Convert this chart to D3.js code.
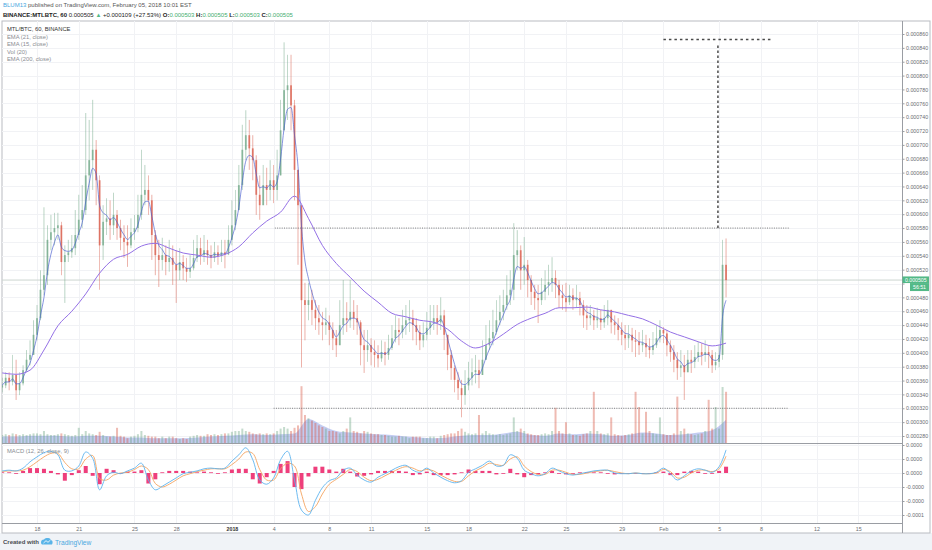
<!DOCTYPE html>
<html>
<head>
<meta charset="utf-8">
<script src="https://cdn.jsdelivr.net/npm/d3@7"></script>
<style>
html,body{margin:0;padding:0;background:#fff;}
svg{display:block;font-family:"Liberation Sans",Arial,sans-serif;}
</style>
</head>
<body>
<svg id="chart" width="932" height="550"></svg>
<script>
// MTL/BTC 60 min, Binance. prices in 1e-6 BTC, one candle = 6h starting 15 Dec 12:00 UTC
var close=[353,364,358,368,346,356,375,390,397,426,
450,491,512,563,574,580,584,531,541,545,
551,570,592,606,656,678,693,649,555,589,
594,584,599,580,566,560,555,574,580,599,
628,635,620,570,541,534,541,531,537,527,
519,531,522,517,522,537,551,541,548,541,
537,545,540,545,542,563,584,606,642,693,
714,695,678,628,613,642,635,649,635,656,
721,779,786,757,664,613,476,469,476,462,
450,444,440,444,433,421,411,440,450,447,
459,450,444,411,404,411,401,397,392,401,
397,407,421,433,430,440,447,450,440,430,
418,426,436,444,450,444,454,426,397,378,
361,349,339,353,364,372,375,368,390,411,
421,430,447,459,469,483,491,541,548,519,
527,505,488,479,476,488,498,502,508,498,
483,479,473,483,476,479,469,454,450,454,
447,450,444,450,462,444,440,433,426,421,
426,418,416,411,414,408,404,411,421,433,
428,411,401,390,378,382,372,390,387,394,
401,397,401,397,382,387,397,527,505];
var high=[364,372,372,397,390,372,382,404,418,447,
469,519,610,584,599,602,602,589,555,563,
570,606,628,642,746,736,765,707,656,613,
623,620,631,606,592,584,584,594,599,628,
693,671,656,628,577,563,566,555,563,555,
548,551,541,537,541,563,570,566,570,563,
555,560,555,563,563,584,620,635,671,729,
750,736,714,685,656,671,667,678,671,693,
765,848,830,830,765,664,613,501,501,491,
476,469,459,465,454,444,433,476,505,473,
505,476,469,447,433,433,421,418,411,418,
416,426,440,454,450,462,469,476,462,450,
440,444,459,469,469,469,480,462,426,404,
382,372,361,375,387,392,397,390,418,440,
447,462,476,483,491,512,519,587,577,555,
567,534,512,498,498,508,519,527,538,519,
505,498,501,498,493,498,488,476,469,469,
462,465,462,469,476,462,454,450,444,440,
440,436,433,430,433,426,421,430,440,447,
437,433,418,411,401,404,397,404,404,411,
416,414,418,411,404,401,411,563,565];
var low=[343,349,346,353,332,339,353,372,382,404,
418,447,483,498,548,555,563,512,472,531,
537,541,563,580,599,620,635,613,491,534,
570,563,570,563,548,537,524,551,563,574,
592,613,599,534,512,495,519,512,517,498,
472,505,505,502,508,519,531,527,531,527,
522,531,527,531,522,541,555,577,606,635,
678,664,649,599,592,613,613,620,616,620,
671,729,736,721,620,527,379,418,447,440,
433,426,418,426,411,404,394,418,426,430,
436,433,426,382,371,387,382,379,379,387,
382,390,404,415,411,421,426,430,418,411,
404,408,418,426,433,426,433,404,375,361,
343,332,307,325,346,353,356,349,368,390,
404,411,426,440,447,462,469,476,519,491,
498,480,469,462,443,469,476,483,488,479,
465,462,459,469,462,465,454,436,433,440,
433,436,433,436,440,428,426,418,411,404,
407,401,394,397,401,394,392,397,407,415,
414,395,387,372,361,365,332,372,371,378,
387,382,387,378,371,375,379,390,480];
var firstOpen=350;
var volume=[10,11,10,12,11,10,11,10,11,12,
12,11,15,11,10,10,11,12,11,10,
9,10,19,11,15,12,11,10,14,10,
8,8,9,19,9,8,6,8,9,11,
15,10,9,8,8,6,8,6,8,8,
6,5,6,5,8,9,10,9,9,11,
10,11,10,11,12,12,14,15,15,18,
15,14,12,11,12,11,12,11,12,15,
18,20,18,15,19,22,71,35,31,28,
25,22,20,18,15,15,14,12,15,18,
32,15,14,12,15,14,12,11,11,10,
10,9,8,8,9,8,8,6,8,8,
8,6,6,8,8,6,9,10,11,12,
12,15,18,14,12,11,12,35,12,15,
12,11,10,11,10,11,12,32,15,18,
15,12,11,10,10,11,12,11,15,44,
15,12,26,12,10,10,9,11,12,15,
64,15,12,11,12,32,11,10,9,10,
11,12,64,45,12,39,15,12,11,32,
11,10,10,12,58,15,18,12,11,10,
11,12,15,54,18,45,18,70,64];
// one value per day (every 4th candle)
var volMA=[8,8,9,9,9,8,9,9,8,7,7,6,6,6,7,8,9,10,11,10,11,12,30,22,15,13,12,11,10,8,
7,6,7,9,10,10,12,14,10,9,12,11,12,11,9,10,13,12,10,11,13,16,29];
var ema200=[371,369,375,404,439,460,485,515,535,542,554,558,551,544,541,538,542,553,573,590,
603,626,594,555,529,509,489,473,457,452,447,444,434,417,407,414,427,441,450,457,
465,465,466,462,459,454,449,440,430,423,416,410,414];
// MACD (12,26,9), 1e-6, one value per 12h
var macd=[3,4,3,7,16,23,29,31,26,4,
3,10,30,21,-24,-4,1,-1,3,7,
14,-10,-24,-19,-13,-7,-1,1,3,6,
7,6,7,17,26,36,19,-10,-16,-7,
19,31,-10,-53,-60,-39,-21,-11,-7,4,
7,-3,-10,-13,-6,-1,4,9,11,4,
1,7,0,-6,-11,-14,-11,1,6,11,
17,10,11,26,21,4,-1,-4,-1,7,
3,-1,-3,-1,1,3,4,4,0,-1,
-1,0,-1,-1,1,7,-1,-10,-4,3,
6,4,1,9,33];
var signal=[2,3,3,4,9,16,23,28,28,15,
6,6,20,25,-8,-10,-3,0,1,5,
10,5,-15,-20,-16,-10,-4,-1,2,4,
6,6,6,12,20,30,28,5,-10,-10,
6,14,10,-30,-55,-48,-30,-16,-9,-2,
5,2,-6,-11,-9,-4,1,6,9,7,
3,5,3,-3,-8,-12,-12,-4,3,8,
14,12,11,20,23,10,2,-2,-2,4,
4,1,-2,-2,0,2,3,4,2,0,
-1,0,-1,-1,0,5,2,-7,-6,0,
4,4,2,6,24];

var priceTicks=[280,300,320,340,360,380,400,420,440,460,480,500,520,540,560,580,600,620,640,660,680,700,720,740,760,780,800,820,840,860];
var macdTicks=[40,20,0,-20,-40,-60];
var tickDates=["2017-12-18","2017-12-21","2017-12-25","2017-12-28","2018-01-01","2018-01-04","2018-01-08","2018-01-11","2018-01-15","2018-01-18","2018-01-22","2018-01-25","2018-01-29","2018-02-01","2018-02-05","2018-02-08","2018-02-12","2018-02-15"];
var tickLabels=["18","21","25","28","2018","4","8","11","15","18","22","25","29","Feb","5","8","12","15"];
var lastPrice=505;
// drawings on the chart
var levelLines=[{p:580,from:"2018-01-04T02:00Z",to:"2018-02-10T00:00Z"},{p:320,from:"2018-01-04T00:00Z",to:"2018-02-10T00:00Z"}];
var targetLine={p0:580,p1:846,at:"2018-02-04T22:00Z",from:"2018-02-01T00:00Z",to:"2018-02-08T20:00Z",top:852};

var t0=Date.UTC(2017,11,15,12);
var HOUR=3600*1000;
function candleTime(i){ return new Date(t0+i*6*HOUR); }
function halfDayTime(i){ return new Date(t0+i*12*HOUR); }
function dayTime(i){ return new Date(t0+i*24*HOUR); }

var svg=d3.select("#chart");
var plotL=2,plotR=902,mainTop=21,mainBot=443,macdBot=523,axisBot=533;
var upC="#6ba583",downC="#d75442";

var x=d3.scaleTime().domain([new Date(Date.UTC(2017,11,18)),new Date(Date.UTC(2018,1,15))]).range([37,858.3]);
var y=d3.scaleLinear().domain([280,860]).range([436,34]);
var yVol=d3.scaleLinear().domain([0,100]).range([mainBot,mainBot-80]);
var yM=d3.scaleLinear().domain([-60,40]).range([515,445]);

// bottom band
svg.append("rect").attr("x",0).attr("y",axisBot).attr("width",932).attr("height",550-axisBot).attr("fill","#f0f3f7");
svg.append("rect").attr("x",plotL).attr("y",mainTop).attr("width",928).attr("height",axisBot-mainTop).attr("fill","#fff").attr("stroke","#b9bcc2");

var defs=svg.append("defs");
defs.append("clipPath").attr("id","mainClip").append("rect").attr("x",plotL).attr("y",mainTop).attr("width",plotR-plotL).attr("height",mainBot-mainTop);
defs.append("clipPath").attr("id","macdClip").append("rect").attr("x",plotL).attr("y",mainBot).attr("width",plotR-plotL).attr("height",macdBot-mainBot);

// grid
var grid=svg.append("g").attr("class","grid").attr("stroke","#f1f2f5").attr("stroke-width",1);
tickDates.forEach(function(d){
    var xx=Math.round(x(new Date(d+"T00:00Z")))+0.5;
    grid.append("line").attr("x1",xx).attr("x2",xx).attr("y1",mainTop).attr("y2",macdBot);
});
priceTicks.forEach(function(p){
    var yy=Math.round(y(p))+0.5;
    grid.append("line").attr("x1",plotL).attr("x2",plotR).attr("y1",yy).attr("y2",yy);
});
macdTicks.forEach(function(p){
    var yy=Math.round(yM(p))+0.5;
    grid.append("line").attr("x1",plotL).attr("x2",plotR).attr("y1",yy).attr("y2",yy);
});

var main=svg.append("g").attr("clip-path","url(#mainClip)");
// last price line
main.append("line").attr("x1",plotL).attr("x2",plotR).attr("y1",y(lastPrice)).attr("y2",y(lastPrice)).attr("stroke","#cdd5d0").attr("stroke-width",1);

//volume
var candles=close.map(function(c,i){
    var o=i?close[i-1]:firstOpen;
    return {t:candleTime(i),o:o,c:c,h:Math.max(high[i],o,c),l:Math.min(low[i],o,c),v:volume[i]};
});
main.append("path").datum(volMA)
    .attr("d",d3.area().x(function(d,i){ return x(dayTime(i)); }).y0(mainBot).y1(function(d){ return yVol(d); }).curve(d3.curveMonotoneX))
    .attr("fill","rgba(98,122,222,0.38)");
main.append("g").selectAll("rect").data(candles).enter().append("rect")
    .attr("x",function(d){ return x(d.t)-1; }).attr("width",2)
    .attr("y",function(d){ return yVol(d.v); })
    .attr("height",function(d){ return mainBot-yVol(d.v); })
    .attr("fill",function(d){ return d.c>=d.o?upC:downC; }).attr("opacity",0.4);

// candles
var gC=main.append("g");
gC.selectAll("line").data(candles).enter().append("line")
    .attr("x1",function(d){ return x(d.t); }).attr("x2",function(d){ return x(d.t); })
    .attr("y1",function(d){ return y(d.h); }).attr("y2",function(d){ return y(d.l); })
    .attr("stroke",function(d){ return d.c>=d.o?upC:downC; }).attr("stroke-width",0.7).attr("opacity",0.65);
gC.selectAll("rect").data(candles).enter().append("rect")
    .attr("x",function(d){ return x(d.t)-0.9; }).attr("width",1.8)
    .attr("y",function(d){ return y(Math.max(d.o,d.c)); })
    .attr("height",function(d){ return Math.max(0.8,Math.abs(y(d.o)-y(d.c))); })
    .attr("fill",function(d){ return d.c>=d.o?upC:downC; }).attr("opacity",0.7);

// EMA 21 from the closes (21h = 3.5 candles of 6h)
var k=2/(21/6+1),e=close[0],ema21=[];
close.forEach(function(c){ e=e+k*(c-e); ema21.push(e); });
main.append("path").datum(ema21)
    .attr("d",d3.line().x(function(d,i){ return x(candleTime(i)); }).y(function(d){ return y(d); }).curve(d3.curveMonotoneX))
    .attr("fill","none").attr("stroke","#4a5fcf").attr("stroke-width",0.8).attr("opacity",0.85);
main.append("path").datum(ema200)
    .attr("d",d3.line().x(function(d,i){ return x(dayTime(i)); }).y(function(d){ return y(d); }).curve(d3.curveMonotoneX))
    .attr("fill","none").attr("stroke","#9470e6").attr("stroke-width",1);

// drawings
levelLines.forEach(function(l){
    main.append("line").attr("x1",x(new Date(l.from))).attr("x2",x(new Date(l.to)))
        .attr("y1",y(l.p)).attr("y2",y(l.p))
        .attr("stroke","#6d6d6d").attr("stroke-width",0.9).attr("stroke-dasharray","1,1.3");
});
var tx=x(new Date(targetLine.at));
main.append("line").attr("x1",tx).attr("x2",tx).attr("y1",y(targetLine.p0)).attr("y2",y(targetLine.p1))
    .attr("stroke","#4a4a4a").attr("stroke-width",1.5).attr("stroke-dasharray","2.5,2.5");
main.append("line").attr("x1",x(new Date(targetLine.from))).attr("x2",x(new Date(targetLine.to)))
    .attr("y1",y(targetLine.top)).attr("y2",y(targetLine.top))
    .attr("stroke","#4a4a4a").attr("stroke-width",1.5).attr("stroke-dasharray","2.5,3");

// MACD pane
var gM=svg.append("g").attr("clip-path","url(#macdClip)");
var hist=macd.map(function(m,i){ return m-signal[i]; });
gM.append("g").selectAll("rect").data(hist).enter().append("rect")
    .attr("x",function(d,i){ return x(halfDayTime(i))-2; }).attr("width",4)
    .attr("y",function(d){ return Math.min(yM(d),yM(0)); })
    .attr("height",function(d){ return Math.max(0.8,Math.abs(yM(d)-yM(0))); })
    .attr("fill","#ec2a6e").attr("opacity",0.9);
var mLine=d3.line().x(function(d,i){ return x(halfDayTime(i)); }).y(function(d){ return yM(d); }).curve(d3.curveCatmullRom);
gM.append("path").datum(signal).attr("d",mLine).attr("fill","none").attr("stroke","#f4a460").attr("stroke-width",0.9);
gM.append("path").datum(macd).attr("d",mLine).attr("fill","none").attr("stroke","#5db3ee").attr("stroke-width",0.9);

// pane borders
svg.append("line").attr("x1",plotL).attr("x2",plotR).attr("y1",mainBot+0.5).attr("y2",mainBot+0.5).attr("stroke","#9a9da3");
svg.append("line").attr("x1",plotL).attr("x2",plotR).attr("y1",macdBot+0.5).attr("y2",macdBot+0.5).attr("stroke","#9a9da3");
svg.append("line").attr("x1",plotR+0.5).attr("x2",plotR+0.5).attr("y1",mainTop).attr("y2",axisBot).attr("stroke","#9a9da3");

// axes
function styleAxis(g){
    g.select(".domain").remove();
    g.selectAll("line").attr("stroke","#9a9da3");
    g.selectAll("text").attr("fill","#6a6d72").attr("font-size",5.3).attr("font-family","Liberation Sans, Arial, sans-serif");
}
var ly=y(lastPrice);
var ya=svg.append("g").attr("transform","translate("+plotR+",0)")
    .call(d3.axisRight(y).tickValues(priceTicks).tickSize(2.5).tickPadding(1.5).tickFormat(function(v){ return (v/1e6).toFixed(6); }))
    .call(styleAxis);
// price label covers the ticks next to it
ya.selectAll(".tick text").filter(function(v){ return Math.abs(y(v)-ly)<9; }).remove();
svg.append("g").attr("transform","translate("+plotR+",0)")
    .call(d3.axisRight(yM).tickValues(macdTicks).tickSize(2.5).tickPadding(1.5).tickFormat(function(v){ return (v/1e6).toFixed(4); }))
    .call(styleAxis);
var xa=svg.append("g").attr("transform","translate(0,"+macdBot+")")
    .call(d3.axisBottom(x).tickValues(tickDates.map(function(d){ return new Date(d+"T00:00Z"); })).tickSize(0).tickPadding(4)
        .tickFormat(function(d,i){ return tickLabels[i]; }))
    .call(styleAxis);
xa.selectAll("text").filter(function(d,i){ return tickLabels[i]=="2018"; }).attr("font-weight","bold").attr("fill","#333");

// last price labels
svg.append("rect").attr("x",plotR+0.5).attr("y",ly-3.6).attr("width",26.5).attr("height",6.6).attr("fill","#53b987");
svg.append("text").attr("x",plotR+3).attr("y",ly+1.6).attr("font-size",5.2).attr("fill","#fff").text((lastPrice/1e6).toFixed(6));
svg.append("rect").attr("x",plotR+8).attr("y",ly+3).attr("width",19).attr("height",8).attr("fill","#53b987");
svg.append("text").attr("x",plotR+11).attr("y",ly+9.3).attr("font-size",5.2).attr("fill","#fff").text("56:51");

// header
var h1=svg.append("text").attr("x",3).attr("y",7.3).attr("font-size",6).attr("fill","#555");
h1.append("tspan").attr("fill","#4aa8e0").text("BLUM13");
h1.append("tspan").text(" published on TradingView.com, February 05, 2018 10:01 EST");
var h2=svg.append("text").attr("x",3).attr("y",16.6).attr("font-size",6).attr("fill","#222");
h2.append("tspan").attr("font-weight","bold").text("BINANCE:MTLBTC, 60 ");
h2.append("tspan").text("0.000505 ");
h2.append("tspan").attr("fill","#53b987").text("▲");
h2.append("tspan").text(" +0.000109 (+27.53%) ");
[["O:","0.000503"],["H:","0.000505"],["L:","0.000503"],["C:","0.000505"]].forEach(function(p){
    h2.append("tspan").attr("font-weight","bold").text(p[0]);
    h2.append("tspan").attr("fill","#3fae6f").text(p[1]+" ");
});

// legend
var legend=["MTL/BTC, 60, BINANCE","EMA (21, close)","EMA (15, close)","Vol (20)","EMA (200, close)"];
var lg=svg.append("g").attr("font-size",5.8);
legend.forEach(function(s,i){
    lg.append("text").attr("x",7).attr("y",31+i*7.6).attr("fill",i?"#8a8d92":"#333").text(s);
});
svg.append("text").attr("x",7).attr("y",453).attr("font-size",5.8).attr("fill","#8a8d92").text("MACD (12, 26, close, 9)");

// footer
svg.append("text").attr("x",3).attr("y",544).attr("font-size",6).attr("font-weight","bold").attr("fill","#4a4d52").text("Created with");
var logo=svg.append("g").attr("transform","translate(41,537.5)");
logo.append("path").attr("d","M0,5 Q0,2 3,2 Q4,0 6.5,0.6 Q9,0 10,2.6 Q12,3 11.6,5.5 L11,7 L1,7 Q0,6.5 0,5 Z").attr("fill","#5ab4e8");
logo.append("path").attr("d","M2.5,5.5 L5,3.2 L7,4.8 L9.5,2.5").attr("fill","none").attr("stroke","#fff").attr("stroke-width",0.8);
svg.append("text").attr("x",55).attr("y",544.5).attr("font-size",6.6).attr("fill","#4aa8e0").text("TradingView");
</script>
</body>
</html>
